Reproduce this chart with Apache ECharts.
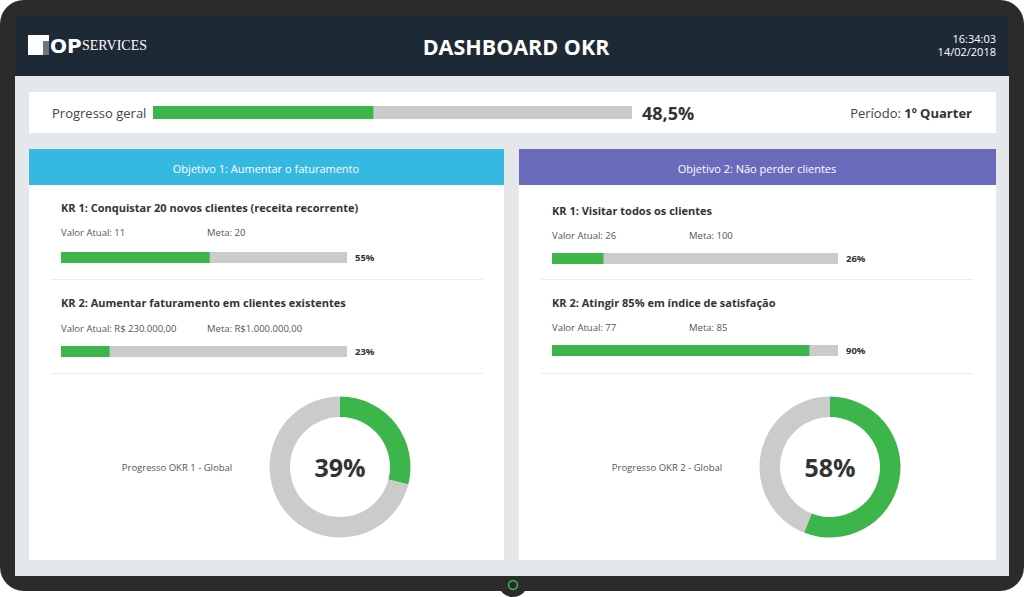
<!DOCTYPE html>
<html><head><meta charset="utf-8">
<script src="https://cdn.jsdelivr.net/npm/echarts@6/dist/echarts.min.js"></script>
<style>html,body{margin:0;padding:0;background:#fff;}#c{width:1024px;height:597px;}</style>
</head><body><div id="c"></div>
<script>
// ---- data ----
const overallFill = [46];
const overallLabel = '48,5%';
const periodLabel = '1º Quarter';
const objectiveTitles = ['Objetivo 1: Aumentar o faturamento', 'Objetivo 2: Não perder clientes'];
const obj1Titles = ['KR 1: Conquistar 20 novos clientes (receita recorrente)', 'KR 2: Aumentar faturamento em clientes existentes'];
const obj1Current = ['11', 'R$ 230.000,00'];
const obj1Target = ['20', 'R$1.000.000,00'];
const obj1Fill = [52, 17];
const obj1Labels = ['55%', '23%'];
const obj2Titles = ['KR 1: Visitar todos os clientes', 'KR 2: Atingir 85% em índice de satisfação'];
const obj2Current = ['26', '77'];
const obj2Target = ['100', '85'];
const obj2Fill = [18, 90];
const obj2Labels = ['26%', '90%'];
const donutNames = ['Progresso OKR 1 - Global', 'Progresso OKR 2 - Global'];
const donutFill = [29, 56];
const donutLabels = ['39%', '58%'];

// ---- styles / layout ----
const GREEN = '#3cb54a', GRAY = '#cbcbcb', FONT = '"Open Sans", "Noto Sans", sans-serif';
const chart = echarts.init(document.getElementById('c'), null, {renderer: 'svg'});

function txt(x, y, text, size, opts) {
  opts = opts || {};
  return {type: 'text', z: 20, style: {x: x, y: y, text: text,
    font: (opts.weight || 'normal') + ' ' + size + 'px ' + (opts.family || FONT),
    fill: opts.color || '#444', align: opts.align || 'left', verticalAlign: opts.va || 'middle'}};
}
function rect(x, y, w, h, color, z, r) {
  return {type: 'rect', z: z || 1, shape: {x: x, y: y, width: w, height: h, r: r || 0}, style: {fill: color}};
}

const graphics = [
  rect(0, 0, 1024, 591, '#2b2b2b', 0, 24),
  {type: 'circle', z: 0, shape: {cx: 513, cy: 582, r: 15}, style: {fill: '#2b2b2b'}},
  {type: 'circle', z: 2, shape: {cx: 513, cy: 585, r: 4.5}, style: {fill: 'none', stroke: GREEN, lineWidth: 1.5}},
  rect(15, 15, 994, 561, '#e5e8eb', 1),
  rect(15, 15, 994, 61, '#1d2934', 2),
  // logo
  rect(28, 35, 21, 20, '#ffffff', 3),
  rect(43, 41, 6, 14, '#6b7681', 4),
  txt(50, 55.5, 'OP', 20, {weight: 'bold', color: '#fff', va: 'bottom', family: '"DejaVu Sans", sans-serif'}),
  txt(82, 52, 'SERVICES', 14, {color: '#fff', va: 'bottom', family: '"Liberation Serif", "DejaVu Serif", serif'}),
  txt(516, 46, 'DASHBOARD OKR', 21.5, {weight: 'bold', color: '#fff', align: 'center'}),
  txt(996, 38, '16:34:03', 11, {color: '#fff', align: 'right'}),
  txt(996, 51, '14/02/2018', 11, {color: '#fff', align: 'right'}),
  // overall box
  rect(29, 92, 967, 41, '#ffffff', 2),
  txt(52, 113, 'Progresso geral', 13, {color: '#444'}),
  txt(642, 113, overallLabel, 18, {weight: 'bold', color: '#333'}),
  {type: 'text', z: 20, style: {x: 972, y: 113, align: 'right', verticalAlign: 'middle',
    text: '{a|Período: }{b|' + periodLabel + '}',
    rich: {a: {font: 'normal 13px ' + FONT, fill: '#444'}, b: {font: 'bold 13px ' + FONT, fill: '#333'}}}},
  // panels
  rect(29, 149, 475, 411, '#ffffff', 2),
  rect(29, 149, 475, 36, '#35b9e1', 3),
  rect(519, 149, 477, 411, '#ffffff', 2),
  rect(519, 149, 477, 36, '#6a6bbc', 3),
  txt(266, 168, objectiveTitles[0], 11, {color: '#fff', align: 'center'}),
  txt(757, 168, objectiveTitles[1], 11, {color: '#fff', align: 'center'}),
  rect(51, 279, 432, 1, '#ececec', 3), rect(51, 373, 432, 1, '#ececec', 3),
  rect(541, 279, 432, 1, '#ececec', 3), rect(541, 373, 432, 1, '#ececec', 3)
];

const krLayout = [
  {x: 61, mx: 207, titles: obj1Titles, cur: obj1Current, tgt: obj1Target, labels: obj1Labels, fill: obj1Fill,
   rows: [{ty: 207, vy: 232, by: 252}, {ty: 302, vy: 328, by: 346}]},
  {x: 552, mx: 689, titles: obj2Titles, cur: obj2Current, tgt: obj2Target, labels: obj2Labels, fill: obj2Fill,
   rows: [{ty: 210, vy: 235, by: 253}, {ty: 302, vy: 327, by: 345}]}
];

const grids = [{left: 153, top: 106, width: 479, height: 13}];
const barSeriesData = [overallFill];
krLayout.forEach(function (o) {
  o.rows.forEach(function (r, i) {
    graphics.push(txt(o.x, r.ty, o.titles[i], 11, {weight: 'bold', color: '#333'}));
    graphics.push(txt(o.x, r.vy, 'Valor Atual: ' + o.cur[i], 9.5, {color: '#555'}));
    graphics.push(txt(o.mx, r.vy, 'Meta: ' + o.tgt[i], 9.5, {color: '#555'}));
    graphics.push(txt(o.x + 294, r.by + 5.5, o.labels[i], 9.5, {weight: 'bold', color: '#333'}));
    grids.push({left: o.x, top: r.by, width: 286, height: 11});
    barSeriesData.push([o.fill[i]]);
  });
});

const donutCenters = [[340, 467], [830, 467]];
donutCenters.forEach(function (c, i) {
  graphics.push(txt(c[0] - 163, c[1], donutNames[i], 9.5, {color: '#555', align: 'center'}));
  graphics.push(txt(c[0], c[1], donutLabels[i], 25, {weight: 'bold', color: '#333', align: 'center'}));
});

const xAxes = [], yAxes = [], series = [];
grids.forEach(function (g, i) {
  xAxes.push({gridIndex: i, type: 'value', min: 0, max: 100, show: false});
  yAxes.push({gridIndex: i, type: 'category', data: [''], show: false});
  series.push({type: 'bar', xAxisIndex: i, yAxisIndex: i, data: barSeriesData[i], barWidth: g.height,
    silent: true, animation: false, z: 5,
    itemStyle: {color: GREEN}, showBackground: true, backgroundStyle: {color: GRAY, opacity: 1}});
});
donutCenters.forEach(function (c, i) {
  series.push({type: 'pie', center: c, radius: [50, 70.5], startAngle: 90, clockwise: true,
    silent: true, animation: false, label: {show: false}, labelLine: {show: false}, z: 5,
    data: [{value: donutFill[i], itemStyle: {color: GREEN}}, {value: 100 - donutFill[i], itemStyle: {color: GRAY}}]});
});

chart.setOption({
  animation: false,
  grid: grids.map(function (g) { return Object.assign({containLabel: false}, g); }),
  xAxis: xAxes, yAxis: yAxes, series: series,
  graphic: {elements: graphics}
});
</script></body></html>
